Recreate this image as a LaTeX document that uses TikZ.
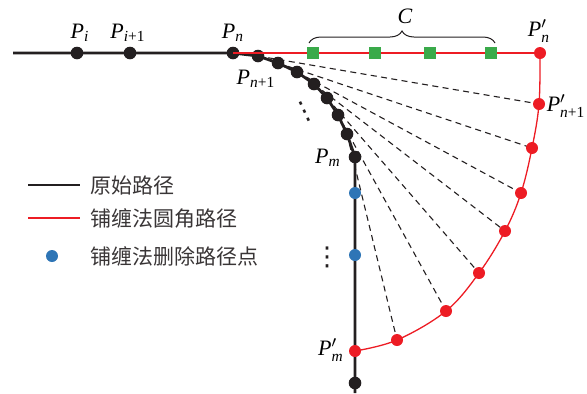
\documentclass[tikz,border=0pt]{standalone}
\usepackage{amsmath}
\usepackage{fontspec}
\setmainfont{Liberation Serif}
\newfontfamily\cjk{Noto Sans CJK SC}
\newfontfamily\symf{DejaVu Sans}
\usepackage{tikz}
\usetikzlibrary{decorations.pathreplacing}
\definecolor{pathblack}{HTML}{231F20}
\definecolor{filletred}{HTML}{ED1C24}
\definecolor{removeblue}{HTML}{2E75B6}
\definecolor{ctrlgreen}{HTML}{3AAA4A}
\newcommand{\pt}{\textit{P}}
\tikzset{
  rawpath/.style    = {draw=pathblack, line width=1.4pt, line join=round},
  filletpath/.style = {draw=filletred, line width=0.65pt},
  fanline/.style    = {draw=pathblack, line width=0.55pt,
                       dash pattern=on 3pt off 2.2pt},
  rawdot/.style     = {circle, fill=pathblack, minimum size=6.3pt, inner sep=0pt},
  filletdot/.style  = {rawdot, fill=filletred, minimum size=6pt},
  dropdot/.style    = {rawdot, fill=removeblue, minimum size=6pt},
  ctrlbox/.style    = {rectangle, fill=ctrlgreen, minimum width=6.4pt,
                       minimum height=6pt, inner sep=0pt},
  ptlabel/.style    = {font=\fontsize{11}{12}\selectfont, inner sep=0pt},
  dotsmark/.style   = {font=\symf\fontsize{13}{14}\selectfont, inner sep=0pt,
                       text=pathblack},
  keytext/.style    = {font=\cjk\fontsize{10.5}{12}\selectfont, anchor=west,
                       inner sep=0pt, text=pathblack!90},
}

\begin{document}
\begin{tikzpicture}[x=0.5pt, y=-0.5pt]
  \useasboundingbox (0,0) rectangle (587,393);
  % original path
  \coordinate (W)   at (13,53);   \coordinate (Pi)  at (77,53);
  \coordinate (Pii) at (130,53);  \coordinate (Pn)  at (233,53);
  \coordinate (d1)  at (258,56);  \coordinate (d2)  at (278,63);
  \coordinate (d3)  at (297,72);  \coordinate (d4)  at (314,84);
  \coordinate (d5)  at (327,98);  \coordinate (d6)  at (338,115);
  \coordinate (d7)  at (347,134); \coordinate (Pm)  at (355,157);
  \coordinate (b1)  at (355,193); \coordinate (b2)  at (355,255);
  \coordinate (Qm)  at (355,351); \coordinate (Pz)  at (355,383);
  \coordinate (S)   at (355,393);
  % fillet path
  \coordinate (Qn)  at (540,53);
  \coordinate (r1)  at (539,104); \coordinate (r2)  at (532,148);
  \coordinate (r3)  at (521,193); \coordinate (r4)  at (505,231);
  \coordinate (r5)  at (479,273); \coordinate (r6)  at (446,311);
  \coordinate (r7)  at (397,340);
  \draw[rawpath] (W) -- (Pn) -- (d1) -- (d2) -- (d3) -- (d4) -- (d5)
    -- (d6) -- (d7) -- (Pm) -- (S);
  \foreach \k in {1,...,7}
    {\draw[fanline] (d\k) -- (r\k);}
  \draw[filletpath] plot[smooth, tension=0.6]
    coordinates {(Qn) (r1) (r2) (r3) (r4) (r5) (r6) (r7) (Qm)};
  \foreach \c in {Pi, Pii, Pn, d1, d2, d3, d4, d5, d6, d7, Pm, Pz}
    {\node[rawdot] (n\c) at (\c) {};}
  \draw[filletpath] (Pn) -- (Qn);
  \foreach \c in {b1, b2}
    {\node[dropdot] (n\c) at (\c) {};}
  \foreach \c in {Qn, r1, r2, r3, r4, r5, r6, r7, Qm}
    {\node[filletdot] (n\c) at (\c) {};}
  \foreach \x [count=\j] in {313, 375, 430, 491}
    {\node[ctrlbox] (g\j) at (\x,53) {};}
  % brace over the control points
  \coordinate (brL) at (309,43);  \coordinate (brR) at (495,43);
  \draw[pathblack, line width=0.5pt, decorate,
        decoration={brace, amplitude=6pt}] (brL) -- (brR);
  \node[ptlabel] (lC)   at (405,16)  {\textit{C}};
  % labels
  \node[ptlabel] (lPi)  at (80,33)   {$\pt_{\textit{i}}$};
  \node[ptlabel] (lPii) at (128,33)  {$\pt_{\textit{i}\text{+1}}$};
  \node[ptlabel] (lPn)  at (233,33)  {$\pt_{\textit{n}}$};
  \node[ptlabel] (lPn1) at (256,79)  {$\pt_{\textit{n}\text{+1}}$};
  \node[ptlabel] (lPm)  at (328,158) {$\pt_{\textit{m}}$};
  \node[ptlabel] (lQn)  at (539,31)  {$\pt'_{\textit{n}}$};
  \node[ptlabel] (lQn1) at (566,106) {$\pt'_{\textit{n}\text{+1}}$};
  \node[ptlabel] (lQm)  at (331,350) {$\pt'_{\textit{m}}$};
  \node[dotsmark, rotate=25] (vd1) at (305,112) {⋮};
  \node[dotsmark] (vd2) at (327,257) {⋮};
  % legend
  \coordinate (k1a) at (28,185);  \coordinate (k1b) at (80,185);
  \coordinate (k2a) at (28,218);  \coordinate (k2b) at (80,218);
  \draw[pathblack, line width=0.6pt] (k1a) -- (k1b);
  \draw[filletpath, line width=0.8pt] (k2a) -- (k2b);
  \node[dropdot] (k3) at (52,256) {};
  \node[keytext] (t1) at (90,185) {原始路径};
  \node[keytext] (t2) at (90,218) {铺缠法圆角路径};
  \node[keytext] (t3) at (90,256) {铺缠法删除路径点};
\end{tikzpicture}
\end{document}
